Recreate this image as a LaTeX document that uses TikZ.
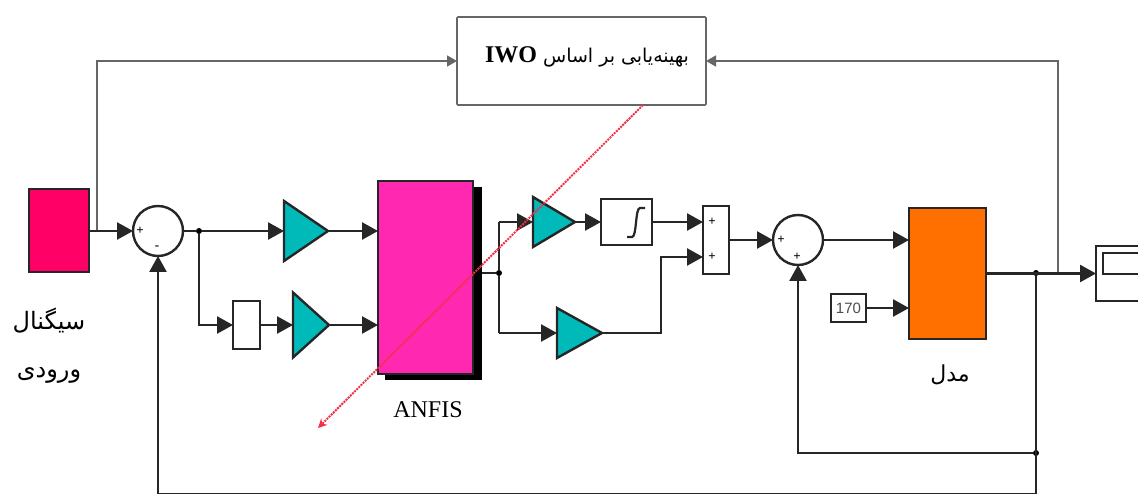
\documentclass[tikz,border=0pt]{standalone}
\usepackage{fontspec}
\setmainfont{Liberation Serif}
\setsansfont{Liberation Sans}
\newfontfamily\arabicfont[Script=Arabic]{DejaVu Sans}
\TeXXeTstate=1
\usetikzlibrary{arrows.meta,%
                shapes.geometric}
\definecolor{inputred}{RGB}{255,0,102}
\definecolor{anfispink}{RGB}{255,40,176}
\definecolor{gainteal}{RGB}{0,186,186}
\definecolor{modelorange}{RGB}{255,112,0}
\definecolor{redline}{RGB}{240,50,70}

\begin{document}
\begin{tikzpicture}[x=1pt,y=-1pt]
  \tikzstyle{BlockStyle}=[draw=black!85,line width=2.4pt,inner sep=0pt,outer sep=0pt]
  \tikzstyle{GainStyle}=[BlockStyle,fill=gainteal,isosceles triangle,isosceles triangle stretches,anchor=apex]
  \tikzstyle{SumStyle}=[BlockStyle,circle,minimum size=50pt]
  \tikzstyle{SignStyle}=[inner sep=0pt,font=\fontsize{13}{13}\selectfont\bfseries]
  \tikzstyle{DotStyle}=[circle,fill=black,inner sep=0pt,minimum size=6pt]
  \tikzstyle{EdgeStyle}=[line width=2.6pt,draw=black!85,-{Triangle[length=16pt,width=17pt]}]
  \tikzstyle{WireStyle}=[line width=2.6pt,draw=black!85]
  \tikzstyle{GrayStyle}=[line width=1.7pt,draw=black!60,-{Triangle[length=10pt,width=11pt]}]
  \tikzstyle{LatinLabel}=[inner sep=0pt,font=\fontsize{24}{24}\selectfont]
  \tikzstyle{FarsiLabel}=[inner sep=0pt,font=\fontsize{24}{24}\selectfont\arabicfont]
  \useasboundingbox (0,0) rectangle (1138,494);
  \clip (0,0) rectangle (1138,494);
  % blocks
  \node[BlockStyle,fill=inputred,minimum width=60pt,minimum height=83pt] (input) at (59,230.5) {};
  \node[SumStyle] (sumA) at (158,231) {};
  \node[GainStyle,minimum width=60pt,minimum height=44pt] (gainA) at (328,231) {};
  \node[BlockStyle,fill=white,minimum width=27pt,minimum height=48pt] (delay) at (246.5,325) {};
  \node[GainStyle,minimum width=65pt,minimum height=36pt] (gainB) at (329,325) {};
  \node[fill=black,minimum width=97pt,minimum height=193pt,inner sep=0pt] (shadow) at (433.5,283.5) {};
  \node[BlockStyle,fill=anfispink,minimum width=95pt,minimum height=193pt] (anfis) at (425.5,277.5) {};
  \node[GainStyle,minimum width=50pt,minimum height=42pt] (gainC) at (575,222) {};
  \node[GainStyle,minimum width=50pt,minimum height=45pt] (gainD) at (602,333) {};
  \node[BlockStyle,fill=white,minimum width=51pt,minimum height=46pt] (integ) at (626.5,222) {};
  \node[BlockStyle,fill=white,minimum width=26pt,minimum height=68pt] (mux) at (716,240) {};
  \node[SumStyle] (sumB) at (798,240) {};
  \node[BlockStyle,fill=modelorange,minimum width=77pt,minimum height=131pt] (model) at (947.5,273.5) {};
  \node[BlockStyle,minimum width=35pt,minimum height=28pt,text=black!70,font=\fontsize{15}{15}\selectfont\sffamily] (const) at (848.5,308) {170};
  \node[BlockStyle,fill=white,minimum width=64pt,minimum height=55pt] (scope) at (1128,273.5) {};
  \node[BlockStyle,minimum width=66pt,minimum height=21pt] (screen) at (1136,263.5) {};
  \node[draw=black!60,line width=1.7pt,rounded corners=1pt,inner sep=0pt,outer sep=0pt,minimum width=249pt,minimum height=88pt] (iwo) at (581.5,61) {};
  % labels
  \node[LatinLabel,inner sep=0pt] (iwolabel) at (587,57) {{\arabicfont\fontsize{19}{19}\selectfont\beginR بهینه‌یابی بر اساس \beginL{\rmfamily\bfseries\fontsize{24}{24}\selectfont IWO}\endL\endR}};
  \node[FarsiLabel] (inputA) at (49,321) {\beginR سیگنال\endR};
  \node[FarsiLabel] (inputB) at (49,375) {\beginR ورودی\endR};
  \node[LatinLabel] (anfislabel) at (428,410) {ANFIS};
  \node[FarsiLabel,font=\fontsize{22}{22}\selectfont\arabicfont] (modellabel) at (950,375) {\beginR مدل\endR};
  \node[SignStyle] (signA) at (140,231) {+};
  \node[SignStyle] (signB) at (157,248) {-};
  \node[SignStyle] (signC) at (712,222) {+};
  \node[SignStyle] (signD) at (712,257) {+};
  \node[SignStyle] (signE) at (781,240) {+};
  \node[SignStyle] (signF) at (797,257) {+};
  % junctions
  \node[DotStyle] (dotA) at (199,231) {};
  \node[DotStyle] (dotB) at (499,273) {};
  \node[DotStyle] (dotC) at (1036,273) {};
  \node[DotStyle] (dotD) at (1036,453) {};
  \coordinate (tapA) at (97,231);
  \coordinate (tapB) at (1058,273);
  \coordinate (cornerC) at (499,222);
  \coordinate (cornerD) at (499,333);
  \coordinate (cornerE) at (661,257);
  \coordinate (bottomA) at (1036,494.5);
  \coordinate (redstart) at (643,105);
  \coordinate (redend) at (318,428);
  % connectors
  \draw[GrayStyle] (tapA) |- (iwo.west);
  \draw[GrayStyle] (tapB) |- (iwo.east);
  \draw[EdgeStyle] (input.east |- sumA) -- (sumA.west);
  \draw[WireStyle] (sumA.east) -- (dotA);
  \draw[EdgeStyle] (dotA) -- (gainA.lower side);
  \draw[EdgeStyle] (gainA.apex) -- (gainA.apex -| anfis.west);
  \draw[EdgeStyle] (dotA) |- (delay.west);
  \draw[EdgeStyle] (delay.east) -- (gainB.lower side);
  \draw[EdgeStyle] (gainB.apex) -- (gainB.apex -| anfis.west);
  \draw[WireStyle] (dotB -| shadow.east) -- (dotB);
  \draw[WireStyle] (dotB) -- (cornerC);
  \draw[WireStyle] (dotB) -- (cornerD);
  \draw[EdgeStyle] (cornerC) -- (gainC.lower side);
  \draw[EdgeStyle] (cornerD) -- (gainD.lower side);
  \draw[EdgeStyle] (gainC.apex) -- (integ.west);
  \draw[EdgeStyle] (integ.east) -- (integ.east -| mux.west);
  \draw[EdgeStyle] (gainD.apex) -| (cornerE) -- (cornerE -| mux.west);
  \draw[EdgeStyle] (mux.east) -- (sumB.west);
  \draw[EdgeStyle] (sumB.east) -- (sumB.east -| model.west);
  \draw[EdgeStyle] (const.east) -- (const.east -| model.west);
  \draw[EdgeStyle] (model.east) -- (scope.west);
  \draw[WireStyle] (dotC) -- (bottomA);
  \draw[EdgeStyle] (dotD) -| (sumB.south);
  \draw[EdgeStyle] (bottomA) -| (sumA.south);
  % integrator sign
  \draw[line width=2.2pt,draw=black!85] (627,237) -- (632,237) .. controls (637,237) and (635,208) .. (640,208) -- (645,208);
  % red line
  \draw[redline,line width=2pt,densely dotted,-{Stealth[length=9pt,width=9pt]}] (redstart) -- (redend);
\end{tikzpicture}
\end{document}
